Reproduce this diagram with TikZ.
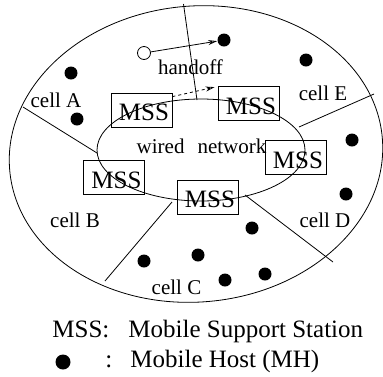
\documentclass[tikz,border=0pt]{standalone}
\usepackage{fontspec}
\setmainfont{Liberation Serif}
\usepackage{tikz}
\usetikzlibrary{shapes,arrows.meta}
\tikzset{
  mss/.style={
    draw, minimum width=61pt, minimum height=34pt, inner sep=0pt,
    text height=21pt, text depth=0pt, font=\fontsize{25}{30}\selectfont,
  },
  mh/.style={circle, fill=black, minimum size=13pt, inner sep=0pt},
  celllabel/.style={font=\fontsize{21}{25}\selectfont, anchor=base, inner sep=0pt},
  legend/.style={font=\fontsize{25}{30}\selectfont, anchor=base west, inner sep=0pt},
}

\begin{document}
\begin{tikzpicture}[x=1pt,y=-1pt,line width=0.8pt]
        \useasboundingbox (0,0) rectangle (383,376);
        % cells and wired network
        \draw (196,154) ellipse [x radius=187, y radius=148, rotate=5];
        \draw (201,150) ellipse [x radius=104, y radius=51];
        \draw (23,107) -- (97,153);
        \draw (183.5,4) -- (197,100);
        \draw (299,127) -- (374,94);
        \draw (245,195) -- (333,262);
        \draw (172,202) -- (105,281);

        % support stations
        \node[mss] (mssa) at (141.5,110) {\hspace*{5pt}MSS};
        \node[mss] (mssb) at (248.5,103.5) {\hspace*{5pt}MSS};
        \node[mss] (mssc) at (295.5,157.5) {\hspace*{5pt}MSS};
        \node[mss] (mssd) at (114,177.5) {\hspace*{5pt}MSS};
        \node[mss] (msse) at (207.5,197) {\hspace*{5pt}MSS};

        % mobile hosts
        \foreach \p [count=\i] in {(71,73),(77,119),(306,60),(352,140),(346,194),
            (252,228),(198,255),(144,261),(225,280),(265,274)}
            \node[mh] (mh\i) at \p {};
        \node[mh] (mhnew) at (224,40) {};
        \node[circle, draw, fill=white, minimum size=13pt, inner sep=0pt] (mhold) at (144,53) {};

        % handoff
        \draw[-{Stealth[open,length=9pt,width=5pt]}] (mhold) -- (mhnew);
        \draw[dashed,-{Stealth[open,length=9pt,width=5pt]}]
            ([yshift=-4pt]mssa.north east) -- ([xshift=-3pt,yshift=-1pt]mssb.north west);

        % labels
        \node[celllabel] (handoff) at (190.5,74) {handoff};
        \node[celllabel] (wired) at (201.5,153) {wired\hspace{13pt}network};
        \node[celllabel] (cella) at (56,107) {cell A};
        \node[celllabel] (celle) at (323,100) {cell E};
        \node[celllabel] (cellb) at (75,227) {cell B};
        \node[celllabel] (celld) at (325,227) {cell D};
        \node[celllabel] (cellc) at (176.5,294) {cell C};

        % legend
        \node[legend] (keymss) at (52,337) {MSS:};
        \node[legend] (keymssdesc) at (128,337) {Mobile Support Station};
        \node[mh, minimum size=15pt] (keymh) at (63,362) {};
        \node[legend] (keycolon) at (105,367) {:};
        \node[legend] (keymhdesc) at (130,367) {Mobile Host (MH)};
    \end{tikzpicture}
\end{document}
